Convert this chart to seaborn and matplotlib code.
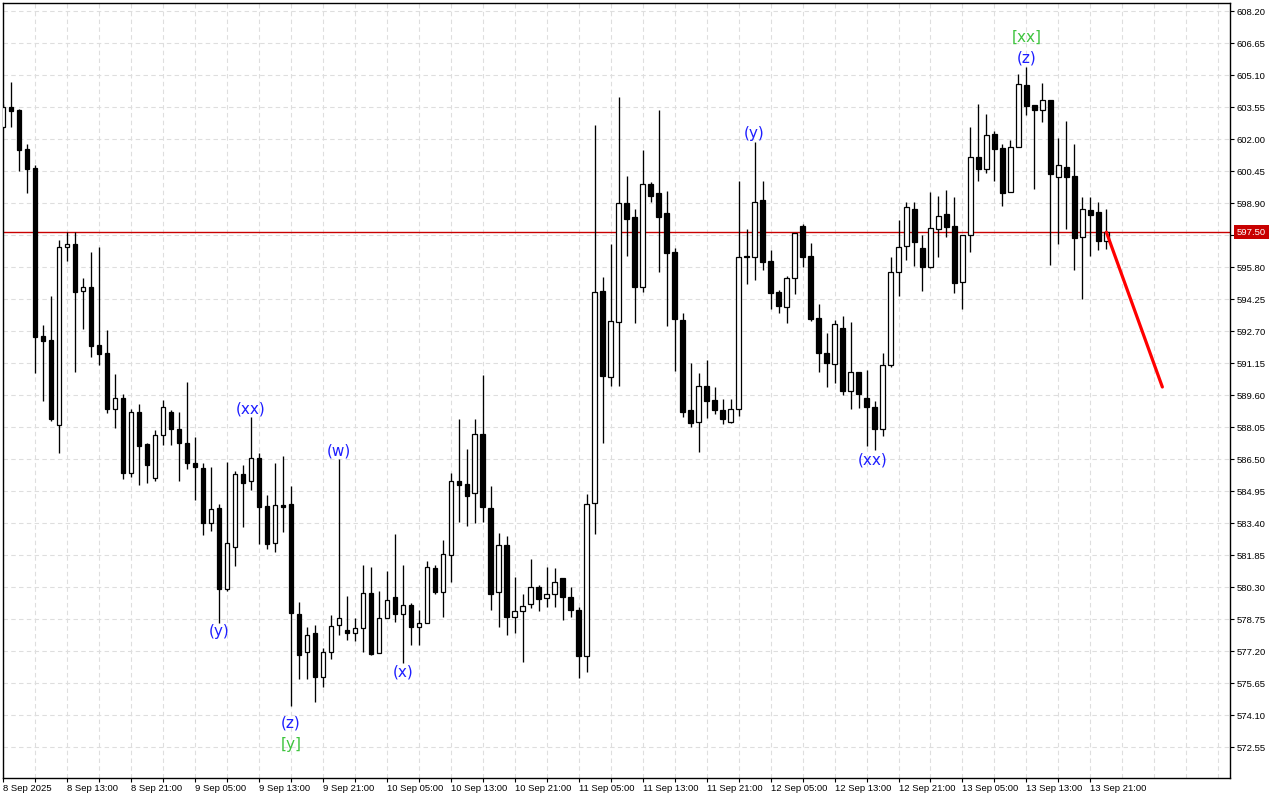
import matplotlib
matplotlib.use("Agg")
import matplotlib.pyplot as plt
import matplotlib.transforms as mtransforms
import numpy as np
import pandas as pd
import seaborn as sns

# ---------------- data (H1 bars, first bar 8 Sep 2025 05:00) ----------------
first_bar = "2025-09-08 05:00"

open_ = [602.61, 603.55, 603.42, 601.53, 600.61, 592.47, 592.28, 588.18, 596.77, 596.93,
         594.64, 594.85, 592.02, 591.64, 588.95, 589.46, 585.82, 588.79, 587.24, 585.58,
         587.66, 588.79, 587.95, 587.28, 586.31, 586.08, 583.40, 584.13, 580.23, 582.27,
         585.79, 585.44, 586.55, 584.24, 582.43, 584.29, 584.34, 579.01, 577.15, 578.10,
         575.97, 577.15, 578.46, 578.23, 578.10, 578.32, 580.01, 577.10, 578.80, 579.82,
         578.99, 579.43, 578.39, 578.56, 581.24, 580.09, 581.85, 585.44, 585.29, 584.86,
         587.71, 584.13, 580.06, 582.35, 578.87, 579.17, 579.47, 580.32, 579.76, 579.99,
         580.73, 579.84, 579.21, 576.95, 584.39, 594.67, 590.50, 593.14, 598.90, 598.22,
         594.86, 599.82, 599.39, 598.42, 596.53, 593.25, 588.89, 588.29, 590.05, 589.37,
         588.89, 588.32, 588.92, 596.35, 596.31, 599.06, 596.09, 594.59, 593.89, 595.27,
         597.80, 596.35, 593.33, 591.64, 591.12, 592.86, 589.81, 590.72, 589.46, 589.02,
         587.95, 591.06, 595.56, 596.83, 598.61, 596.72, 595.83, 597.64, 598.37, 597.80,
         595.08, 597.35, 601.13, 600.55, 602.24, 601.57, 599.44, 601.64, 604.63, 603.65,
         603.41, 603.91, 600.19, 600.66, 600.22, 597.25, 598.58, 598.48, 597.09]

high = [603.71, 604.78, 603.45, 601.77, 600.74, 593.01, 594.41, 597.12, 597.50, 597.50,
        595.27, 596.54, 596.78, 592.76, 590.63, 589.66, 588.92, 589.18, 587.31, 587.92,
        589.37, 588.89, 588.79, 590.25, 587.57, 586.31, 586.11, 584.34, 586.37, 585.95,
        586.22, 588.54, 586.82, 584.79, 586.31, 586.66, 585.21, 579.60, 578.39, 578.48,
        577.35, 578.95, 586.50, 579.88, 578.80, 581.37, 581.27, 580.11, 581.08, 582.87,
        581.37, 579.53, 579.20, 581.59, 581.38, 582.59, 585.82, 588.44, 586.99, 588.44,
        590.59, 585.21, 582.92, 582.80, 580.82, 579.99, 581.69, 580.41, 581.30, 581.21,
        580.73, 580.32, 579.36, 584.84, 602.69, 595.32, 596.93, 604.07, 600.22, 598.61,
        601.48, 599.93, 603.42, 599.50, 596.72, 593.57, 591.15, 590.67, 591.31, 590.02,
        589.41, 589.41, 599.98, 597.67, 601.87, 599.98, 596.64, 594.70, 595.39, 597.48,
        597.90, 596.96, 594.01, 592.60, 593.25, 593.44, 593.14, 590.72, 590.83, 589.33,
        591.64, 596.29, 598.09, 598.95, 598.95, 597.37, 599.44, 599.26, 599.55, 599.21,
        597.35, 602.58, 603.71, 603.23, 602.42, 601.76, 601.97, 605.17, 605.49, 603.65,
        604.74, 603.91, 602.08, 602.89, 601.77, 599.19, 599.22, 598.95, 598.61]

low = [602.55, 602.61, 600.48, 599.42, 590.70, 589.34, 588.37, 586.79, 596.12, 590.74,
       592.83, 591.44, 591.08, 588.73, 588.03, 585.56, 585.63, 585.27, 585.37, 585.44,
       587.21, 587.21, 585.44, 586.05, 584.53, 582.83, 583.01, 578.59, 580.11, 581.33,
       583.24, 585.01, 582.40, 582.17, 582.01, 582.98, 574.55, 575.87, 575.87, 574.76,
       575.49, 576.84, 577.98, 577.75, 577.71, 577.17, 577.02, 577.10, 578.80, 578.64,
       576.62, 577.52, 577.52, 578.56, 579.98, 578.88, 580.57, 583.48, 583.29, 583.40,
       583.48, 579.20, 578.39, 578.00, 578.06, 576.69, 579.30, 579.17, 579.36, 579.36,
       578.69, 578.84, 575.91, 576.21, 582.87, 587.28, 590.07, 590.07, 596.36, 593.12,
       594.62, 598.98, 595.59, 592.97, 590.79, 588.56, 588.05, 586.87, 588.49, 588.70,
       588.21, 588.27, 588.60, 594.99, 595.19, 595.67, 593.80, 593.60, 593.12, 594.51,
       595.80, 593.21, 590.74, 589.99, 590.18, 589.60, 588.92, 589.00, 587.15, 586.95,
       587.65, 590.99, 594.41, 596.16, 595.87, 594.67, 595.75, 596.32, 597.28, 594.54,
       593.77, 596.56, 600.00, 600.38, 600.00, 598.79, 599.44, 601.64, 603.18, 599.61,
       602.84, 595.91, 596.93, 597.67, 595.67, 594.28, 596.35, 596.64, 596.70]

close = [603.58, 603.39, 601.48, 600.58, 592.44, 592.25, 588.47, 596.77, 596.93, 594.62,
         594.83, 591.99, 591.60, 588.95, 589.46, 585.85, 588.79, 587.16, 586.24, 587.66,
         589.02, 587.95, 587.31, 586.31, 586.11, 583.40, 584.08, 580.23, 582.43, 585.79,
         585.34, 586.55, 584.21, 582.40, 584.27, 584.21, 579.07, 577.02, 577.99, 575.97,
         577.17, 578.43, 578.80, 578.07, 578.32, 580.01, 577.06, 578.80, 579.67, 578.99,
         579.44, 578.39, 578.56, 581.27, 580.09, 581.91, 585.44, 585.27, 584.74, 587.71,
         584.21, 579.99, 582.35, 578.86, 579.17, 579.40, 580.32, 579.73, 579.99, 580.56,
         579.84, 579.21, 576.95, 584.34, 594.60, 590.54, 593.20, 598.90, 598.16, 594.86,
         599.82, 599.27, 598.25, 596.48, 593.31, 588.81, 588.25, 590.05, 589.34, 588.89,
         588.44, 588.92, 596.29, 596.29, 598.95, 596.07, 594.57, 593.94, 595.27, 597.48,
         596.31, 593.28, 591.64, 591.15, 593.04, 589.82, 590.72, 589.65, 589.02, 587.98,
         591.06, 595.56, 596.80, 598.71, 597.04, 595.83, 597.69, 598.29, 597.77, 595.06,
         597.35, 601.13, 600.55, 602.20, 601.55, 599.42, 601.64, 604.68, 603.63, 603.42,
         603.91, 600.32, 600.74, 600.19, 597.24, 598.61, 598.35, 597.09, 597.50]

price_ticks = [572.55, 574.10, 575.65, 577.20, 578.75, 580.30, 581.85, 583.40, 584.95,
               586.50, 588.05, 589.60, 591.15, 592.70, 594.25, 595.80, 597.35, 598.90,
               600.45, 602.00, 603.55, 605.10, 606.65, 608.20]
hidden_tick = 597.35   # covered by the current-price tag in the reference

current_price = 597.50
forecast_bar = [138, 145]
forecast_price = [597.50, 590.00]

# wave labels: (bar index, price position, text, colour)
wave_labels = [
    (31, 588.93, "(xx)", "#1e1eff"),
    (27, 578.18, "(y)", "#1e1eff"),
    (36, 573.73, "(z)", "#1e1eff"),
    (36, 572.66, "[y]", "#3ec43e"),
    (42, 586.90, "(w)", "#1e1eff"),
    (50, 576.20, "(x)", "#1e1eff"),
    (94, 602.30, "(y)", "#1e1eff"),
    (108.8, 586.47, "(xx)", "#1e1eff"),
    (128, 605.94, "(z)", "#1e1eff"),
    (128, 606.95, "[xx]", "#3ec43e"),
]

# ---------------- figure ----------------
sns.set_theme(style="white")
plt.rcParams['font.family'] = ['DejaVu Sans']

fig = plt.figure(figsize=(12.8, 8), dpi=100)
ax = fig.add_axes([3 / 1280, 22 / 800, 1227 / 1280, 775 / 800])
ax.set_facecolor("white")

n = len(open_)
times = pd.date_range(first_bar, periods=n, freq="h")
df = pd.DataFrame({"bar": np.arange(n), "o": open_, "h": high, "l": low, "c": close})
up = (df.c >= df.o).values

xmin, xmax = 0.0875, 153.46
ymin, ymax = 571.06, 608.60

# grid
grid_kw = dict(color="#dedede", lw=0.8, ls=(0, (4, 3)), zorder=0)
for yv in price_ticks:
    ax.axhline(yv, **grid_kw)
for xv in range(0, 153, 4):
    ax.axvline(xv, **grid_kw)

# current price line
ax.axhline(current_price, color="#c80000", lw=1.0, zorder=2)

# wicks
ax.vlines(df.bar, df.l, df.h, color="black", lw=0.95, zorder=3)
# bodies
bottom = np.minimum(df.o, df.c)
height = np.maximum(np.abs(df.c - df.o), 0.035)
ax.bar(df.bar[up], height[up], bottom=bottom[up], width=0.56,
       color="white", edgecolor="black", linewidth=0.9, zorder=4)
ax.bar(df.bar[~up], height[~up], bottom=bottom[~up], width=0.56,
       color="black", edgecolor="black", linewidth=0.9, zorder=4)

# forecast line
fc = pd.DataFrame({"bar": forecast_bar, "price": forecast_price})
sns.lineplot(data=fc, x="bar", y="price", color="#ff0000", lw=2.3, ax=ax, zorder=6)

# wave labels
for bx, py, txt, col in wave_labels:
    ax.text(bx, py, txt, color=col, fontsize=11, ha="center", va="center", zorder=7)

ax.set_xlim(xmin, xmax)
ax.set_ylim(ymin, ymax)
ax.set_xlabel("")
ax.set_ylabel("")

# y axis on the right
ax.yaxis.tick_right()
ax.set_yticks(price_ticks)
ax.set_yticklabels(["" if abs(v - hidden_tick) < 1e-6 else f"{v:.2f}" for v in price_ticks])
ax.tick_params(axis="y", which="both", direction="out", length=3, width=0.8,
               pad=2, labelsize=6.8, colors="black", right=True, left=False)

# x axis
major = list(range(0, n, 8))
labels = []
for k in major:
    t = times[k]
    if k == 0:
        labels.append(f"{t.day} {t.strftime('%b')} {t.year}")
    else:
        labels.append(f"{t.day} {t.strftime('%b %H:%M')}")
ax.set_xticks(major)
ax.set_xticklabels(labels)
ax.set_xticks(list(range(4, n, 8)), minor=True)
ax.tick_params(axis="x", which="both", direction="out", length=3, width=0.8,
               pad=1.5, labelsize=6.8, colors="black", bottom=True)
for lbl in ax.get_xticklabels():
    lbl.set_horizontalalignment("left")
    lbl.set_fontfamily("Liberation Sans")
for lbl in ax.get_yticklabels():
    lbl.set_fontfamily("Liberation Sans")

for sp in ax.spines.values():
    sp.set_visible(True)
    sp.set_color("black")
    sp.set_linewidth(1.0)

# current price tag
trans = mtransforms.blended_transform_factory(ax.transAxes, ax.transData)
ax.text(1.0057, current_price, f"{current_price:.2f}", transform=trans, ha="left",
        va="center", fontsize=6.8, family="Liberation Sans", color="white",
        bbox=dict(boxstyle="square,pad=0.3", fc="#c80000", ec="none"),
        zorder=10, clip_on=False)

fig.savefig("out.png", dpi=100)
